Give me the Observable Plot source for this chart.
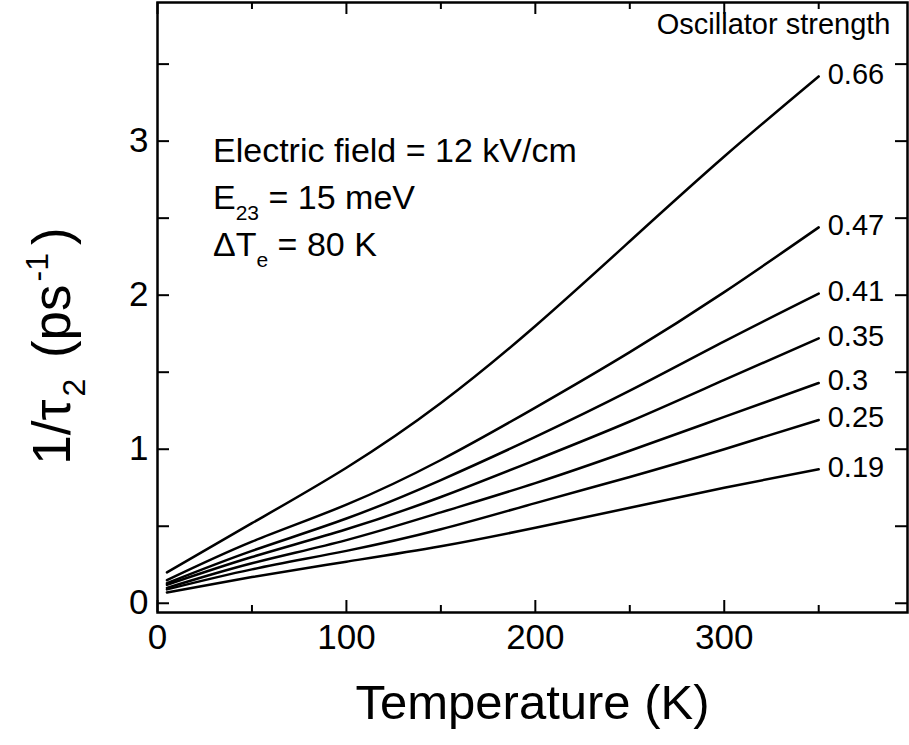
<!DOCTYPE html>
<html>
<head>
<meta charset="utf-8">
<script src="https://cdn.jsdelivr.net/npm/d3@7"></script>
<script src="https://cdn.jsdelivr.net/npm/@observablehq/plot@0.6"></script>
<style>
  html, body { margin: 0; padding: 0; background: #fff; }
  #chart svg { display: block; font-family: "Liberation Sans", Arial, sans-serif; }
</style>
</head>
<body>
<div id="chart"></div>
<script>
// Lattice temperature (K) at which 1/tau_2 was evaluated
const temperatureK = [5, 50, 100, 150, 200, 250, 300, 350];

// Oscillator strengths, one curve each
const strengthLabels = ["0.66", "0.47", "0.41", "0.35", "0.3", "0.25", "0.19"];

// Scattering rate 1/tau_2 (ps^-1) for each oscillator strength
const rateF066 = [0.20, 0.52, 0.88, 1.30, 1.80, 2.35, 2.90, 3.42];
const rateF047 = [0.15, 0.40, 0.64, 0.93, 1.27, 1.63, 2.02, 2.44];
const rateF041 = [0.13, 0.34, 0.55, 0.80, 1.08, 1.38, 1.70, 2.01];
const rateF035 = [0.12, 0.30, 0.48, 0.69, 0.93, 1.18, 1.45, 1.72];
const rateF030 = [0.10, 0.26, 0.41, 0.59, 0.78, 0.99, 1.21, 1.43];
const rateF025 = [0.09, 0.22, 0.34, 0.48, 0.65, 0.82, 1.00, 1.19];
const rateF019 = [0.07, 0.17, 0.27, 0.37, 0.49, 0.62, 0.75, 0.87];

// Axis ticks
const xMajorTicks = [0, 100, 200, 300];
const xMinorTicks = [50, 150, 250, 350];
const yMajorTicks = [0, 1, 2, 3];
const yMinorTicks = [0.5, 1.5, 2.5, 3.5];

const seriesRates = [rateF066, rateF047, rateF041, rateF035, rateF030, rateF025, rateF019];

const rows = strengthLabels.flatMap((s, i) =>
  temperatureK.map((t, j) => ({strength: s, T: t, rate: seriesRates[i][j]}))
);
const lineEnds = strengthLabels.map((s, i) => ({
  strength: s,
  T: temperatureK[temperatureK.length - 1],
  rate: seriesRates[i][seriesRates[i].length - 1]
}));

const W = 909, H = 745;
const mL = 157, mR = 2, mT = 2, mB = 133;
const frameW = W - mL - mR, frameH = H - mT - mB;
const majorLen = 12, minorLen = 7;

const font = "'Liberation Sans', Arial, sans-serif";
const tickStyle = {stroke: "#000", strokeWidth: 2};

const plot = Plot.plot({
  width: W,
  height: H,
  marginLeft: mL,
  marginRight: mR,
  marginTop: mT,
  marginBottom: mB,
  style: {fontFamily: font, color: "#000", background: "#fff", overflow: "visible"},
  x: {domain: [0, 397]},
  y: {domain: [-0.06, 3.9]},
  marks: [
    // inward ticks on all four sides
    Plot.ruleX(xMajorTicks, {x: d => d, insetTop: frameH - majorLen, ...tickStyle}),
    Plot.ruleX(xMinorTicks, {x: d => d, insetTop: frameH - minorLen, ...tickStyle}),
    Plot.ruleX(xMajorTicks, {x: d => d, insetBottom: frameH - majorLen, ...tickStyle}),
    Plot.ruleX(xMinorTicks, {x: d => d, insetBottom: frameH - minorLen, ...tickStyle}),
    Plot.ruleY(yMajorTicks, {y: d => d, insetRight: frameW - majorLen, ...tickStyle}),
    Plot.ruleY(yMinorTicks, {y: d => d, insetRight: frameW - majorLen, ...tickStyle}),
    Plot.ruleY(yMajorTicks, {y: d => d, insetLeft: frameW - majorLen, ...tickStyle}),
    Plot.ruleY(yMinorTicks, {y: d => d, insetLeft: frameW - majorLen, ...tickStyle}),
    // tick labels
    Plot.axisX({ticks: xMajorTicks, tickSize: 0, tickPadding: 12, label: null, fontSize: 35, tickFormat: d => String(d)}),
    Plot.axisY({ticks: yMajorTicks, tickSize: 0, tickPadding: 9, label: null, fontSize: 35, tickFormat: d => String(d)}),
    Plot.frame({stroke: "#000", strokeWidth: 2.5}),
    // curves
    Plot.line(rows, {x: "T", y: "rate", z: "strength", stroke: "#000", strokeWidth: 2.5, curve: "natural"}),
    Plot.text(lineEnds, {
      x: "T", y: "rate", text: "strength", textAnchor: "start", dx: 9, dy: -2,
      fontSize: 29, fill: "#000"
    }),
    Plot.text(["Oscillator strength"], {
      frameAnchor: "top-right", textAnchor: "end", lineAnchor: "top",
      dx: -17, dy: 11, fontSize: 29, fill: "#000"
    }),
    Plot.text(["Temperature (K)"], {
      frameAnchor: "bottom", lineAnchor: "bottom", dy: 106, fontSize: 49, fill: "#000"
    })
  ]
});

const svg = d3.select(plot);

// y-axis title with subscript and superscript
const yTitle = svg.append("text")
  .attr("transform", "translate(70,346) rotate(-90)")
  .attr("text-anchor", "middle")
  .attr("font-family", font)
  .attr("font-size", 53)
  .attr("fill", "#000");
yTitle.append("tspan").text("1/\u03C4");
yTitle.append("tspan").attr("font-size", 32).attr("dx", 3).attr("dy", 15).text("2");
yTitle.append("tspan").attr("dx", 6).attr("dy", -15).text(" (ps");
yTitle.append("tspan").attr("font-size", 32).attr("dx", 3).attr("dy", -22).text("-1");
yTitle.append("tspan").attr("dx", 8).attr("dy", 22).text(")");

// simulation parameters
const notes = svg.append("g")
  .attr("font-family", font)
  .attr("font-size", 34)
  .attr("text-anchor", "start")
  .attr("fill", "#000");
notes.append("text").attr("x", 213).attr("y", 162).text("Electric field = 12 kV/cm");
const e23 = notes.append("text").attr("x", 213).attr("y", 209);
e23.append("tspan").text("E");
e23.append("tspan").attr("font-size", 21).attr("dy", 11).text("23");
e23.append("tspan").attr("dy", -11).text(" = 15 meV");
const dTe = notes.append("text").attr("x", 213).attr("y", 256);
dTe.append("tspan").text("\u0394T");
dTe.append("tspan").attr("font-size", 21).attr("dy", 11).text("e");
dTe.append("tspan").attr("dy", -11).text(" = 80 K");

document.getElementById("chart").appendChild(plot);
</script>
</body>
</html>
